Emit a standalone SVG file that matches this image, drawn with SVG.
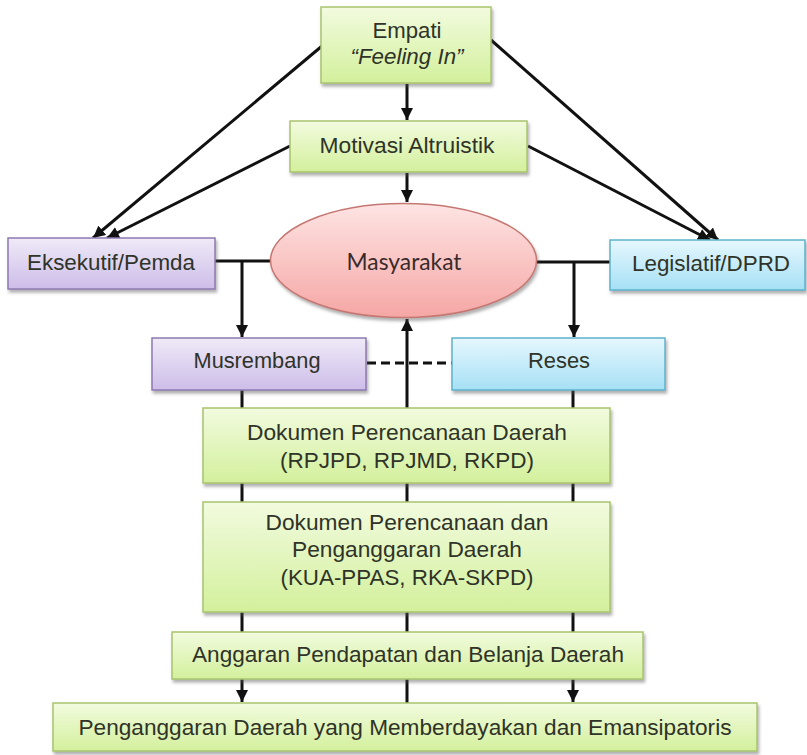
<svg xmlns="http://www.w3.org/2000/svg" width="807" height="755" viewBox="0 0 807 755">
  <style>
    .lbl { font-family: "Liberation Sans", Arial, sans-serif; font-size: 22.5px; fill: #2f3328; text-anchor: middle; }
    .ell { font-family: Lato, "Open Sans", sans-serif; font-size: 23px; fill: #3a2a2a; text-anchor: middle; }
    .green { fill: url(#gGreen); stroke: #a9c46e; stroke-width: 1.5; filter: url(#shadow); }
    .purple { fill: url(#gPurple); stroke: #8f7ab0; stroke-width: 1.5; filter: url(#shadow); }
    .blue { fill: url(#gBlue); stroke: #5fb2cc; stroke-width: 1.5; filter: url(#shadow); }
    .pink { fill: url(#gPink); stroke: #c57873; stroke-width: 1.5; filter: url(#shadow); }
    .wire { stroke: #111; stroke-width: 3; fill: none; }
    .arrow { marker-end: url(#head); }
    .dash { stroke: #111; stroke-width: 3; stroke-dasharray: 9 5; fill: none; }
  </style>
  <defs>
    <linearGradient id="gGreen" x1="0" y1="0" x2="0" y2="1">
      <stop offset="0" stop-color="#f2fbdf"/>
      <stop offset="1" stop-color="#d3f09c"/>
    </linearGradient>
    <linearGradient id="gPurple" x1="0" y1="0" x2="0" y2="1">
      <stop offset="0" stop-color="#efeaf7"/>
      <stop offset="1" stop-color="#cdbde9"/>
    </linearGradient>
    <linearGradient id="gBlue" x1="0" y1="0" x2="0" y2="1">
      <stop offset="0" stop-color="#e6f7fd"/>
      <stop offset="1" stop-color="#a6e0f5"/>
    </linearGradient>
    <linearGradient id="gPink" x1="0" y1="0" x2="0" y2="1">
      <stop offset="0" stop-color="#fde4e3"/>
      <stop offset="1" stop-color="#f5a7a5"/>
    </linearGradient>
    <filter id="shadow" x="-10%" y="-20%" width="120%" height="150%">
      <feDropShadow dx="1.5" dy="3" stdDeviation="1.5" flood-color="#555" flood-opacity="0.45"/>
    </filter>
    <marker id="head" viewBox="0 0 10 10" refX="10" refY="5" markerWidth="4" markerHeight="4" orient="auto" markerUnits="strokeWidth">
      <path d="M0,0 L10,5 L0,10 Z" fill="#111"/>
    </marker>
  </defs>

  <rect width="807" height="755" fill="#ffffff"/>

  <!-- connectors (drawn beneath the nodes) -->
  <g id="connectors">
    <line class="wire arrow" x1="407" y1="84" x2="407" y2="120"/>
    <line class="wire arrow" x1="407" y1="173" x2="407" y2="202"/>
    <line class="wire arrow" x1="322" y1="46" x2="93" y2="238"/>
    <line class="wire arrow" x1="290" y1="146" x2="107" y2="238"/>
    <line class="wire arrow" x1="491" y1="40" x2="718" y2="240"/>
    <line class="wire arrow" x1="528" y1="146" x2="710" y2="240"/>
    <line class="wire" x1="215" y1="261" x2="272" y2="261"/>
    <line class="wire arrow" x1="242" y1="261" x2="242" y2="337"/>
    <line class="wire" x1="535" y1="262" x2="611" y2="262"/>
    <line class="wire arrow" x1="574" y1="262" x2="574" y2="337"/>
    <line class="dash" x1="367" y1="363" x2="452" y2="363"/>
    <line class="wire arrow" x1="407" y1="703" x2="407" y2="319"/>
    <line class="wire arrow" x1="242" y1="390" x2="242" y2="702"/>
    <line class="wire arrow" x1="573" y1="390" x2="573" y2="702"/>
  </g>

  <g id="empati">
    <rect class="green" x="321" y="7" width="170" height="76"/>
    <text class="lbl" x="407" y="38" textLength="69" lengthAdjust="spacingAndGlyphs">Empati</text>
    <text class="lbl" x="407" y="64" font-style="italic" textLength="113" lengthAdjust="spacingAndGlyphs">“Feeling In”</text>
  </g>

  <g id="motivasi">
    <rect class="green" x="290" y="121" width="237" height="51"/>
    <text class="lbl" x="407" y="153" textLength="175" lengthAdjust="spacingAndGlyphs">Motivasi Altruistik</text>
  </g>

  <g id="masyarakat">
    <ellipse class="pink" cx="403.5" cy="260.5" rx="133" ry="57"/>
    <text class="ell" x="404" y="270" textLength="115" lengthAdjust="spacingAndGlyphs">Masyarakat</text>
  </g>

  <g id="eksekutif">
    <rect class="purple" x="8" y="238" width="207" height="51"/>
    <text class="lbl" x="111" y="270" textLength="168" lengthAdjust="spacingAndGlyphs">Eksekutif/Pemda</text>
  </g>

  <g id="legislatif">
    <rect class="blue" x="610" y="240" width="195" height="50"/>
    <text class="lbl" x="711" y="271" textLength="158" lengthAdjust="spacingAndGlyphs">Legislatif/DPRD</text>
  </g>

  <g id="musrembang">
    <rect class="purple" x="152" y="338" width="214" height="52"/>
    <text class="lbl" x="257" y="368" textLength="127" lengthAdjust="spacingAndGlyphs">Musrembang</text>
  </g>

  <g id="reses">
    <rect class="blue" x="452" y="338" width="213" height="52"/>
    <text class="lbl" x="559" y="368" textLength="62" lengthAdjust="spacingAndGlyphs">Reses</text>
  </g>

  <g id="dokumen-perencanaan">
    <rect class="green" x="203" y="408" width="407" height="75"/>
    <text class="lbl" x="407" y="440" textLength="320" lengthAdjust="spacingAndGlyphs">Dokumen Perencanaan Daerah</text>
    <text class="lbl" x="407" y="468" textLength="254" lengthAdjust="spacingAndGlyphs">(RPJPD, RPJMD, RKPD)</text>
  </g>

  <g id="dokumen-penganggaran">
    <rect class="green" x="203" y="502" width="407" height="110"/>
    <text class="lbl" x="407" y="530" textLength="283" lengthAdjust="spacingAndGlyphs">Dokumen Perencanaan dan</text>
    <text class="lbl" x="407" y="557" textLength="230" lengthAdjust="spacingAndGlyphs">Penganggaran Daerah</text>
    <text class="lbl" x="407" y="585" textLength="253" lengthAdjust="spacingAndGlyphs">(KUA-PPAS, RKA-SKPD)</text>
  </g>

  <g id="apbd">
    <rect class="green" x="172" y="632" width="471" height="47"/>
    <text class="lbl" x="408" y="662" textLength="432" lengthAdjust="spacingAndGlyphs">Anggaran Pendapatan dan Belanja Daerah</text>
  </g>

  <g id="penganggaran-emansipatoris">
    <rect class="green" x="53" y="703" width="704" height="48"/>
    <text class="lbl" x="405" y="735" textLength="653" lengthAdjust="spacingAndGlyphs">Penganggaran Daerah yang Memberdayakan dan Emansipatoris</text>
  </g>
</svg>
